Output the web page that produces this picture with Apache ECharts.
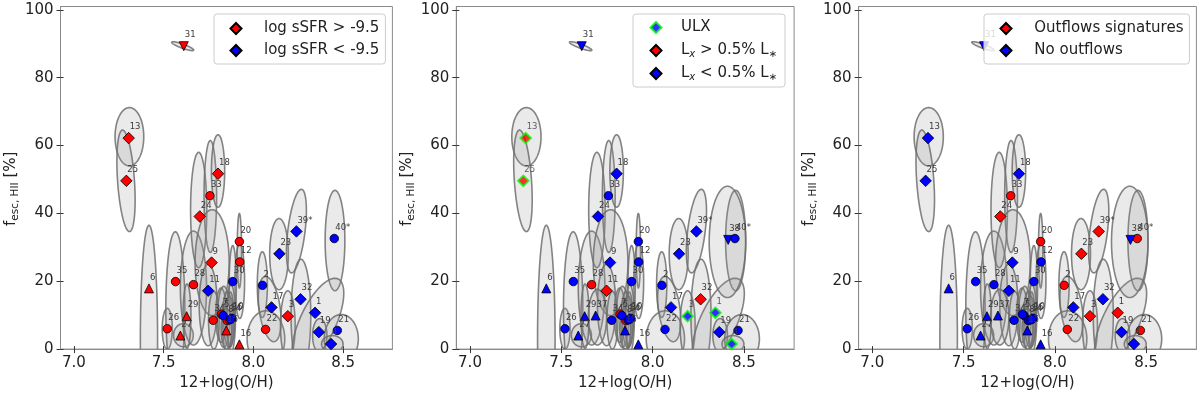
<!DOCTYPE html>
<html>
<head>
<meta charset="utf-8">
<script src="https://cdn.jsdelivr.net/npm/echarts@6/dist/echarts.min.js"></script>
<style>
  html, body { margin: 0; background: #fff; }
  #chart { width: 1200px; height: 396px; }
</style>
</head>
<body>
<div id="chart"></div>
<script>
// galaxies: id, 12+log(O/H), f_esc,HII [%], marker (D diamond, o circle, ^ / v limits)
const ids   = ['1','2','3','4','5','6','7','8','9','10','11','12','13','14','15','16','17','18','19','20',
               '21','22','23','24','25','26','27','28','29','30','31','32','33','34','35','36','37','38','39*','40*'];
const oh    = [8.344, 8.051, 8.192, 8.433, 7.831, 7.418, 7.822, 7.854, 7.767, 7.880,
               7.748, 7.924, 7.305, 7.866, 7.849, 7.922, 8.101, 7.803, 8.365, 7.922,
               8.468, 8.068, 8.145, 7.701, 7.292, 7.520, 7.593, 7.666, 7.628, 7.885,
               7.612, 8.263, 7.758, 7.776, 7.566, 7.873, 7.688, 8.414, 8.240, 8.451];
const fesc  = [10.7, 18.8, 9.7, 1.5, 9.9, 17.9, 10.3, 8.4, 25.5, 9.1,
               17.2, 25.7, 62.2, 8.6, 5.5, 1.4, 12.3, 51.7, 5.0, 31.7,
               5.5, 5.8, 28.1, 39.1, 49.6, 6.0, 4.0, 19.0, 9.7, 19.9,
               89.3, 14.7, 45.2, 8.5, 19.9, 8.8, 9.9, 32.2, 34.7, 32.6];
const shape = ['D','o','D','D','o','^','o','o','D','o',
               'D','o','D','o','^','^','D','D','D','o',
               'o','o','D','D','D','o','^','o','^','o',
               'v','D','o','o','o','o','^','v','D','o'];

// classes per panel (1 = red, 0 = blue, null = not plotted)
const ssfrHigh = [0,0,1,0,0,1,1,1,1,0, 0,1,1,1,1,1,0,1,0,1, 0,1,0,1,1,1,1,1,1,0, 1,0,1,1,1,0,null,null,0,0];
const lxHigh   = [0,0,0,0,0,0,1,1,0,0, 1,0,1,0,0,0,0,0,0,0, 0,0,0,0,1,0,0,1,0,0, 0,1,0,0,0,0,0,0,0,0];
const isUlx    = [1,0,1,1,0,0,0,0,0,0, 0,0,1,0,0,0,0,0,0,0, 0,0,0,0,1,0,0,0,0,0, 0,0,0,0,0,0,0,0,0,0];
const outflow  = [1,1,1,0,0,0,0,0,0,0, 0,0,0,0,0,0,0,0,0,1, 1,1,1,1,0,0,0,0,0,0, 0,0,1,0,0,0,0,0,1,1];

// error ellipses: id, centre, semi-axes (data units), tilt (deg, ccw)
const ellId  = ['13','25','31','6','26','35','27','28','29','24','33','18','9','11','20','12','30',
                '34','7','5','8','10','14','36','15','2','17','22','3','23','39*','40*','32','1',
                '19','21','4','37','38'];
const ellX   = [7.309, 7.290, 7.606, 7.418, 7.520, 7.565, 7.610, 7.666, 7.630, 7.695, 7.760, 7.803, 7.770, 7.748, 7.922, 7.924, 7.885,
                7.780, 7.820, 7.835, 7.855, 7.875, 7.865, 7.872, 7.850, 8.050, 8.091, 8.070, 8.192, 8.143, 8.240, 8.455, 8.265, 8.360,
                8.370, 8.490, 8.440, 7.698, 8.410];
const ellY   = [62.6, 49.6, 89.3, 3.0, 6.0, 12.0, 4.1, 18.0, 9.7, 41.0, 45.0, 52.5, 25.5, 13.0, 29.0, 20.0, 19.0,
                8.5, 10.0, 9.5, 8.0, 9.0, 8.0, 8.8, 6.0, 19.0, 11.8, 3.0, 7.0, 28.0, 34.8, 32.0, 10.0, 8.0,
                4.0, 3.0, 1.5, 9.4, 31.6];
const ellRx  = [0.080, 0.047, 0.065, 0.048, 0.028, 0.053, 0.055, 0.073, 0.022, 0.045, 0.035, 0.037, 0.095, 0.050, 0.012, 0.027, 0.020,
                0.030, 0.030, 0.035, 0.028, 0.025, 0.030, 0.020, 0.030, 0.028, 0.059, 0.105, 0.041, 0.052, 0.048, 0.055, 0.055, 0.100,
                0.040, 0.095, 0.060, 0.050, 0.100];
const ellRy  = [8.6, 15.0, 0.6, 33.5, 6.0, 22.6, 3.4, 16.8, 9.5, 17.0, 16.5, 10.7, 15.6, 12.0, 11.0, 11.0, 11.5,
                8.5, 8.0, 9.0, 9.0, 10.0, 7.5, 8.0, 6.0, 9.7, 9.7, 8.3, 10.2, 10.5, 12.4, 14.8, 16.5, 14.0,
                5.0, 7.2, 2.5, 8.2, 16.4];
const ellAng = [0, 4, -20, 0, 0, 0, 0, 0, 0, 0, 0, 0, 0, 0, 0, 0, 0,
                0, 0, 0, 0, 0, 0, 0, 0, 0, 8, 0, 0, 0, -7, 0, 0, -25,
                0, 0, 0, 0, 0];

const xTicks = [7.0, 7.5, 8.0, 8.5];
const yTicks = [0, 20, 40, 60, 80, 100];

const FONT = 'DejaVu Sans';
const RED = '#ff0000', BLUE = '#0000ff', GREEN = '#00ff00';
const SYMBOL = { D: 'diamond', o: 'circle', '^': 'triangle', v: 'triangle' };
const SIZE = { D: 11.5, o: 8.5, '^': 9, v: 9 };
const gridLefts = [54.6, 456.3, 858.6];

const chart = echarts.init(document.getElementById('chart'));

function pointItem(i, extra) {
  return Object.assign({
    name: ids[i],
    value: [oh[i], fesc[i]],
    symbol: SYMBOL[shape[i]],
    symbolSize: SIZE[shape[i]],
    symbolRotate: shape[i] === 'v' ? 180 : 0
  }, extra || {});
}

const pointLabel = {
  show: true, formatter: '{b}', position: 'inside', align: 'left', verticalAlign: 'middle',
  offset: [1, -11], fontSize: 8.5, color: '#3a3a3a', fontFamily: FONT, textBorderWidth: 0
};

function scatter(name, panel, color, idx, extraFn) {
  return {
    type: 'scatter', name: name, xAxisIndex: panel * 2, yAxisIndex: panel * 2, z: 3,
    itemStyle: { color: color, borderColor: '#000', borderWidth: 0.8, opacity: 1 },
    label: pointLabel,
    emphasis: { disabled: true },
    data: idx.map(i => pointItem(i, extraFn ? extraFn(i) : null))
  };
}

function renderEllipse(params, api) {
  const c = api.coord([api.value(0), api.value(1)]);
  const s = api.size([api.value(2), api.value(3)]);
  const a = -api.value(4) * Math.PI / 180;
  const pts = [];
  for (let k = 0; k < 90; k++) {
    const t = k / 90 * Math.PI * 2;
    const ex = s[0] * Math.cos(t), ey = s[1] * Math.sin(t);
    pts.push([c[0] + ex * Math.cos(a) - ey * Math.sin(a), c[1] + ex * Math.sin(a) + ey * Math.cos(a)]);
  }
  return {
    type: 'polygon', shape: { points: pts },
    style: { fill: 'rgba(150,150,150,0.2)', stroke: 'rgba(110,110,110,0.85)', lineWidth: 1.6 }
  };
}

function ellipseSeries(panel) {
  const data = [];
  ellId.forEach((id, k) => {
    const i = ids.indexOf(id);
    if (panel === 0 && ssfrHigh[i] === null) return;
    data.push([ellX[k], ellY[k], ellRx[k], ellRy[k], ellAng[k]]);
  });
  return {
    type: 'custom', xAxisIndex: panel * 2, yAxisIndex: panel * 2, z: 1, clip: true,
    renderItem: renderEllipse, encode: { x: 0, y: 1 }, silent: true, data: data
  };
}

const all = ids.map((_, i) => i);
const series = [ellipseSeries(0), ellipseSeries(1), ellipseSeries(2)];

// panel 1: specific star formation rate
series.push(scatter('log sSFR > -9.5', 0, RED, all.filter(i => ssfrHigh[i] === 1)));
series.push(scatter('log sSFR < -9.5', 0, BLUE, all.filter(i => ssfrHigh[i] === 0)));
// panel 2: X-ray luminosity
series.push(scatter('Lx high', 1, RED, all.filter(i => lxHigh[i] === 1 && !isUlx[i])));
series.push(scatter('Lx low', 1, BLUE, all.filter(i => lxHigh[i] === 0 && !isUlx[i])));
const ulx = scatter('ULX', 1, BLUE, all.filter(i => isUlx[i]), i => ({
  symbolSize: 10.5, itemStyle: { color: lxHigh[i] ? RED : BLUE }
}));
ulx.itemStyle = { color: BLUE, borderColor: GREEN, borderWidth: 2 };
series.push(ulx);
// panel 3: outflows
series.push(scatter('Outflows signatures', 2, RED, all.filter(i => outflow[i] === 1)));
series.push(scatter('No outflows', 2, BLUE, all.filter(i => outflow[i] === 0)));

const xAxes = [], yAxes = [], grids = [];
gridLefts.forEach((left, p) => {
  grids.push({ left: left, top: 6.5, width: 337.8, height: 347.5, show: true,
               borderColor: '#8a8a8a', borderWidth: 1, backgroundColor: 'transparent' });
  const common = { type: 'value', gridIndex: p, splitLine: { show: false } };
  xAxes.push(Object.assign({}, common, {
    min: 6.925, max: 8.775, position: 'bottom',
    name: '12+log(O/H)', nameLocation: 'middle', nameGap: 24,
    nameTextStyle: { fontSize: 15, color: '#222', fontFamily: FONT },
    axisLine: { show: true, lineStyle: { color: '#8a8a8a', width: 1 } },
    axisTick: { show: true, inside: false, length: 4, lineStyle: { color: '#333' }, customValues: xTicks },
    axisLabel: { fontSize: 15, color: '#222', fontFamily: FONT, margin: 7, customValues: xTicks,
                 formatter: v => v.toFixed(1) }
  }));
  xAxes.push(Object.assign({}, common, {
    min: 6.925, max: 8.775, position: 'bottom',
    axisLine: { show: false },
    axisTick: { show: true, inside: true, length: 3, lineStyle: { color: '#333' }, customValues: xTicks },
    axisLabel: { show: false }
  }));
  yAxes.push(Object.assign({}, common, {
    min: 0, max: 101, position: 'left',
    name: 'f{s|esc, HII} [%]', nameLocation: 'middle', nameGap: 33, nameRotate: 90,
    nameTextStyle: { fontSize: 15, color: '#222', fontFamily: FONT, lineHeight: 20, padding: [0, 22, 0, 0],
                     rich: { s: { fontSize: 10.5, color: '#222', fontFamily: FONT, lineHeight: 9, verticalAlign: 'bottom' } } },
    axisLine: { show: true, lineStyle: { color: '#8a8a8a', width: 1 } },
    axisTick: { show: true, inside: false, length: 4, lineStyle: { color: '#333' }, customValues: yTicks },
    axisLabel: { fontSize: 15, color: '#222', fontFamily: FONT, margin: 7, customValues: yTicks }
  }));
  yAxes.push(Object.assign({}, common, {
    min: 0, max: 101, position: 'left',
    axisLine: { show: false },
    axisTick: { show: true, inside: true, length: 3, lineStyle: { color: '#333' }, customValues: yTicks },
    axisLabel: { show: false }
  }));
});

const legendBase = {
  orient: 'vertical', top: 14, itemWidth: 11, itemHeight: 11,
  backgroundColor: 'rgba(255,255,255,0.8)', borderColor: '#cccccc', borderWidth: 1, borderRadius: 3,
  selectedMode: false, z: 10
};
const legendText = (pad) => ({
  fontSize: 15, color: '#222', fontFamily: FONT, lineHeight: 17, padding: [0, 0, 0, pad],
  rich: {
    s: { fontSize: 10, fontFamily: FONT, color: '#222', lineHeight: 8, verticalAlign: 'bottom' },
    si: { fontSize: 10, fontFamily: FONT, color: '#222', lineHeight: 8, verticalAlign: 'bottom', fontStyle: 'italic' }
  }
});
const legendLabels = {
  'Lx high': 'L{si|x} > 0.5% L{s|∗}',
  'Lx low': 'L{si|x} < 0.5% L{s|∗}'
};

const legends = [
  Object.assign({}, legendBase, {
    left: 214, padding: [6, 6, 5, 15.5], itemGap: 5, textStyle: legendText(17.5),
    data: [{ name: 'log sSFR > -9.5', icon: 'diamond' }, { name: 'log sSFR < -9.5', icon: 'diamond' }]
  }),
  Object.assign({}, legendBase, {
    left: 633, padding: [5, 8, 5, 16.5], itemGap: 6, textStyle: legendText(14.5),
    formatter: n => legendLabels[n] || n,
    data: [{ name: 'ULX', icon: 'diamond' }, { name: 'Lx high', icon: 'diamond' }, { name: 'Lx low', icon: 'diamond' }]
  }),
  Object.assign({}, legendBase, {
    left: 984, padding: [6, 6, 5, 15.5], itemGap: 5, textStyle: legendText(17.8),
    data: [{ name: 'Outflows signatures', icon: 'diamond' }, { name: 'No outflows', icon: 'diamond' }]
  })
];

chart.setOption({
  animation: false,
  backgroundColor: '#ffffff',
  textStyle: { fontFamily: FONT },
  grid: grids,
  xAxis: xAxes,
  yAxis: yAxes,
  legend: legends,
  series: series
});
</script>
</body>
</html>
